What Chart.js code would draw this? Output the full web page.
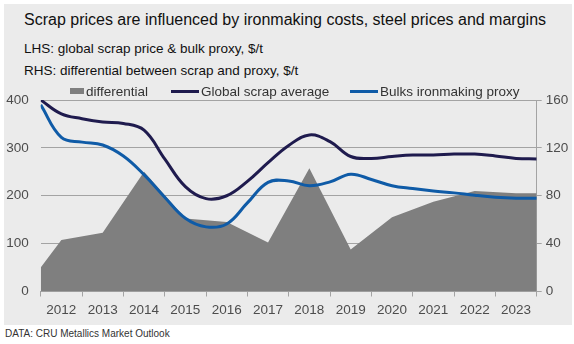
<!DOCTYPE html>
<html>
<head>
<meta charset="utf-8">
<script src="https://cdn.jsdelivr.net/npm/chart.js@4.4.1/dist/chart.umd.min.js"></script>
<style>
  html, body { margin: 0; padding: 0; background: #ffffff; }
  #wrap { position: relative; width: 574px; height: 344px; overflow: hidden;
          font-family: "Liberation Sans", Arial, sans-serif; }
  #panel { position: absolute; left: 4px; top: 4px; width: 568px; height: 321px; background: #ebebeb; }
  .txt { position: absolute; white-space: nowrap; line-height: 1; }
  #title { left: 24px; top: 12px; font-size: 16px; color: #111; }
  #sub1 { left: 24px; top: 42px; font-size: 13.5px; color: #111; }
  #sub2 { left: 24px; top: 64px; font-size: 13.5px; color: #111; }
  #source { left: 5px; top: 329px; font-size: 10px; color: #333; }
  #chartBox { position: absolute; left: 0; top: 78px; width: 574px; height: 247px; }
  #legend { position: absolute; left: 0; top: 82px; width: 574px; height: 18px; }
  .lg-item { position: absolute; top: 0; height: 18px; display: flex; align-items: center;
             font-size: 13.5px; color: #333; white-space: nowrap; }
  .lg-item:nth-child(1) { left: 70px; }
  .lg-item:nth-child(2) { left: 171px; }
  .lg-item:nth-child(3) { left: 350px; }
  .lg-box { display: inline-block; margin-right: 2px; }
</style>
</head>
<body>
<div id="wrap">
  <div id="panel"></div>
  <div class="txt" id="title">Scrap prices are influenced by ironmaking costs, steel prices and margins</div>
  <div class="txt" id="sub1">LHS: global scrap price &amp; bulk proxy, $/t</div>
  <div class="txt" id="sub2">RHS: differential between scrap and proxy, $/t</div>
  <div id="chartBox"><canvas id="chart" width="574" height="247"></canvas></div>
  <div id="legend"></div>
  <div class="txt" id="source">DATA: CRU Metallics Market Outlook</div>
</div>
<script>
// Year categories on the axis
const years = ['2012', '2013', '2014', '2015', '2016', '2017', '2018', '2019', '2020', '2021', '2022', '2023'];

// Half-yearly readings for the two price lines ($/t, left axis)
const lineTimes = [2011.5, 2012, 2012.5, 2013, 2013.5, 2014, 2014.5, 2015, 2015.5, 2016, 2016.5, 2017,
                   2017.5, 2018, 2018.5, 2019, 2019.5, 2020, 2020.5, 2021, 2021.5, 2022, 2022.5, 2023, 2023.5];
const scrapAverage = [400, 371, 361, 354, 351, 337, 277, 219, 194, 200, 230, 269,
                      305, 327, 313, 282, 278, 282, 285, 285, 287, 287, 283, 278, 277];
const bulksProxy = [390, 322, 312, 306, 283, 244, 197, 153, 135, 141, 185, 228,
                    231, 221, 229, 245, 234, 221, 215, 210, 206, 201, 197, 195, 195];

// Annual scrap-minus-proxy differential ($/t, right axis)
const diffTimes = [2011.5, 2012, 2013, 2014, 2015, 2016, 2017, 2018, 2019, 2020, 2021, 2022, 2023, 2023.5];
const differential = [20, 43, 49, 100, 61, 58, 41, 103, 35, 62, 75, 84, 82, 82];

// Axis tick values
const leftTicks = [0, 100, 200, 300, 400];
const rightTicks = [0, 40, 80, 120, 160];

const FONT = '"Liberation Sans", Arial, sans-serif';
const GRID = '#a3a3a3';
const LABEL = '#4d4d4d';

const pairs = (xs, ys) => xs.map((x, i) => ({ x, y: ys[i] }));

// Builds the HTML legend from the chart's datasets
const htmlLegend = {
  id: 'htmlLegend',
  afterUpdate(chart) {
    const box = document.getElementById('legend');
    box.innerHTML = '';
    const shown = [...chart.data.datasets].sort((a, b) => b.order - a.order);
    shown.forEach(ds => {
      const item = document.createElement('div');
      item.className = 'lg-item';
      const sw = document.createElement('span');
      sw.className = 'lg-box';
      if (ds.fill) {
        sw.style.width = '14px';
        sw.style.height = '6px';
        sw.style.background = ds.backgroundColor;
      } else {
        sw.style.width = '28px';
        sw.style.height = ds.borderWidth + 'px';
        sw.style.background = ds.borderColor;
      }
      const label = document.createElement('span');
      label.textContent = ds.label;
      item.appendChild(sw);
      item.appendChild(label);
      box.appendChild(item);
    });
  }
};

new Chart(document.getElementById('chart'), {
  data: {
    labels: years,
    datasets: [
      {
        type: 'line',
        label: 'differential',
        data: pairs(diffTimes, differential),
        xAxisID: 'xl',
        yAxisID: 'y1',
        fill: 'origin',
        backgroundColor: '#7f7f7f',
        borderWidth: 0,
        borderColor: 'rgba(0,0,0,0)',
        pointRadius: 0,
        tension: 0,
        order: 3
      },
      {
        type: 'line',
        label: 'Global scrap average',
        data: pairs(lineTimes, scrapAverage),
        xAxisID: 'xl',
        yAxisID: 'y',
        fill: false,
        borderColor: '#1f1b4e',
        borderWidth: 3,
        pointRadius: 0,
        tension: 0.4,
        order: 2
      },
      {
        type: 'line',
        label: 'Bulks ironmaking proxy',
        data: pairs(lineTimes, bulksProxy),
        xAxisID: 'xl',
        yAxisID: 'y',
        fill: false,
        borderColor: '#0f5ba7',
        borderWidth: 3,
        pointRadius: 0,
        tension: 0.4,
        order: 1
      }
    ]
  },
  options: {
    responsive: false,
    animation: false,
    devicePixelRatio: 1,
    layout: { padding: { top: 22, left: 0, right: 0, bottom: 0 } },
    plugins: { legend: { display: false }, tooltip: { enabled: false } },
    scales: {
      x: {
        type: 'category',
        position: 'bottom',
        offset: true,
        grid: { offset: true, drawOnChartArea: false, drawTicks: true, tickLength: 5, color: GRID },
        border: { display: true, color: GRID },
        ticks: { color: LABEL, font: { family: FONT, size: 13.5 }, padding: 6, maxRotation: 0, autoSkip: false },
        afterFit(s) { s.height = 33.5; }
      },
      xl: { type: 'linear', display: false, min: 2011.5, max: 2023.5 },
      y: {
        position: 'left',
        min: leftTicks[0],
        max: leftTicks[leftTicks.length - 1],
        afterBuildTicks(s) { s.ticks = leftTicks.map(v => ({ value: v })); },
        grid: { color: GRID, drawTicks: false },
        border: { display: false },
        ticks: { color: LABEL, font: { family: FONT, size: 13.5 }, padding: 12 },
        afterFit(s) { s.width = 40.7; }
      },
      y1: {
        position: 'right',
        min: rightTicks[0],
        max: rightTicks[rightTicks.length - 1],
        afterBuildTicks(s) { s.ticks = rightTicks.map(v => ({ value: v })); },
        grid: { drawOnChartArea: false, drawTicks: true, tickLength: 5, color: GRID },
        border: { display: true, color: GRID },
        ticks: { color: LABEL, font: { family: FONT, size: 13.5 }, padding: 4 },
        afterFit(s) { s.width = 574 - 536.7; }
      }
    }
  },
  plugins: [htmlLegend]
});
</script>
</body>
</html>
